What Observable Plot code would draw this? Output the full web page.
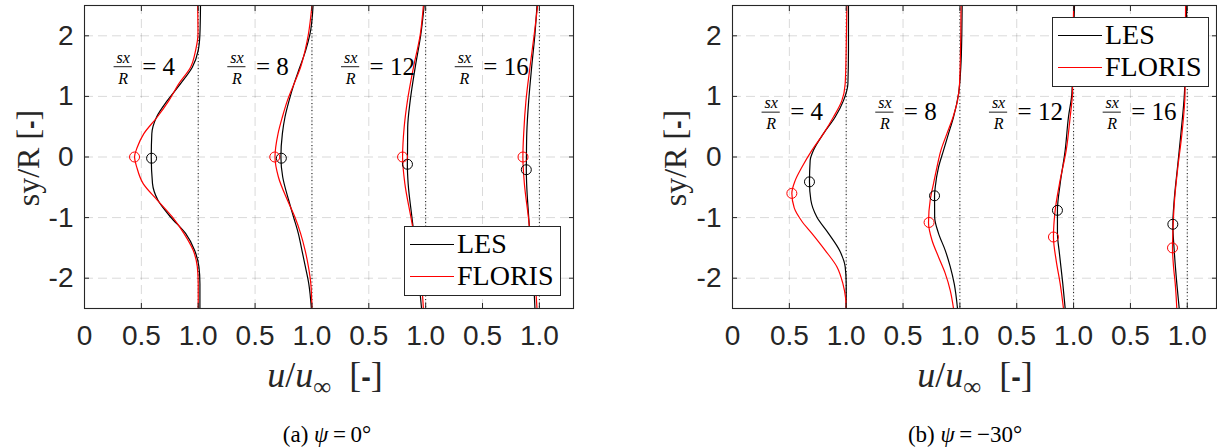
<!DOCTYPE html>
<html>
<head>
<meta charset="utf-8">
<script src="https://cdn.jsdelivr.net/npm/d3@7"></script>
<script src="https://cdn.jsdelivr.net/npm/@observablehq/plot@0.6"></script>
<style>
  body { margin: 0; background: #fff; }
  #fig { position: relative; width: 1217px; height: 448px; overflow: hidden; background: #fff; font-family: "Liberation Serif", "Times New Roman", serif; color: #000; }
  .panel { position: absolute; top: 0; }
  .ylab { position: absolute; transform: translate(-50%, -50%) rotate(-90deg); white-space: nowrap; font-size: 32px; line-height: 1; color: #262626; }
  .xlab { position: absolute; transform: translate(-50%, -50%); white-space: nowrap; font-size: 36px; line-height: 1; color: #262626; }
  .cap { position: absolute; transform: translate(-50%, -50%); white-space: nowrap; font-size: 23px; line-height: 1; }
  .sansb { font-family: "Liberation Sans", Arial, sans-serif; font-weight: bold; font-size: 0.8em; }
  .legend { position: absolute; background: #fff; border: 1px solid #262626; box-sizing: border-box; }
  .legend .row { position: absolute; left: 0; height: 0; width: 100%; }
  .legend .sw { position: absolute; left: 5px; top: 0; width: 44px; height: 0; }
  .legend .lt { position: absolute; left: 52px; top: 0; transform: translateY(-50%); font-size: 28px; line-height: 1; white-space: nowrap; }
</style>
</head>
<body>
<div id="fig"></div>
<script>
// ---------- axes / categories ----------
const sxR = [4, 8, 12, 16];
const profileOffsets = [0, 1, 2, 3];
const seriesNames = ["LES", "FLORIS"];
const seriesColors = ["#000000", "#ff0000"];
const xTickValues = [0, 0.5, 1, 1.5, 2, 2.5, 3, 3.5, 4];
const xTickLabels = ["0", "0.5", "1.0", "0.5", "1.0", "0.5", "1.0", "0.5", "1.0"];
const yTickValues = [-2, -1, 0, 1, 2];
const yTickLabels = ["-2", "-1", "0", "1", "2"];
const captions = ["(a)", "(b)"];
const psiValues = ["0", "\u221230"];

// ---------- panel (a) psi = 0 : velocity profiles u/u_inf vs sy/R ----------
const a4LesY = [2.5, 2.03, 1.76, 1.48, 1.21, 0.93, 0.66, 0.385, 0, -0.44, -0.71, -0.99, -1.26, -1.54, -1.81, -2.09, -2.5];
const a4LesU = [1.02, 1.015, 1.0, 0.948, 0.845, 0.728, 0.634, 0.592, 0.587, 0.598, 0.645, 0.757, 0.889, 0.968, 1.006, 1.015, 1.015];
const a4FlorisY = [2.5, 2.03, 1.76, 1.48, 1.21, 0.93, 0.66, 0.385, 0.16, 0, -0.17, -0.44, -0.71, -0.99, -1.26, -1.54, -1.81, -2.09, -2.5];
const a4FlorisU = [0.995, 0.998, 0.977, 0.933, 0.83, 0.742, 0.64, 0.522, 0.464, 0.44, 0.46, 0.516, 0.64, 0.772, 0.874, 0.956, 0.992, 1.0, 1.0];

const a8LesY = [2.5, 2.03, 1.76, 1.48, 1.21, 0.93, 0.66, 0.385, 0, -0.33, -0.71, -0.99, -1.26, -1.54, -1.81, -2.09, -2.5];
const a8LesU = [1.01, 0.983, 0.945, 0.893, 0.843, 0.799, 0.763, 0.74, 0.727, 0.743, 0.795, 0.838, 0.88, 0.912, 0.942, 0.972, 0.995];
const a8FlorisY = [2.5, 2.03, 1.76, 1.48, 1.21, 0.93, 0.66, 0.385, 0, -0.33, -0.71, -0.99, -1.26, -1.54, -1.81, -2.09, -2.5];
const a8FlorisU = [1.0, 0.969, 0.94, 0.9, 0.843, 0.784, 0.74, 0.702, 0.675, 0.705, 0.784, 0.85, 0.9, 0.94, 0.969, 0.99, 1.0];

const a12LesY = [2.5, 2.03, 1.48, 0.93, 0.49, 0, -0.12, -0.44, -0.99, -1.54, -2.09, -2.5];
const a12LesU = [0.987, 0.958, 0.908, 0.864, 0.842, 0.84, 0.839, 0.846, 0.879, 0.914, 0.943, 0.964];
const a12FlorisY = [2.5, 2.03, 1.48, 0.93, 0.49, 0, -0.44, -0.99, -1.54, -2.09, -2.5];
const a12FlorisU = [0.98, 0.953, 0.893, 0.84, 0.811, 0.797, 0.817, 0.87, 0.922, 0.964, 0.98];

const a16LesY = [2.5, 2.03, 1.48, 0.93, 0.385, 0, -0.21, -0.44, -0.99, -1.54, -2.09, -2.5];
const a16LesU = [0.979, 0.961, 0.932, 0.906, 0.889, 0.886, 0.885, 0.888, 0.906, 0.926, 0.95, 0.961];
const a16FlorisY = [2.5, 2.03, 1.48, 0.93, 0.385, 0, -0.44, -0.99, -1.54, -2.09, -2.5];
const a16FlorisU = [0.985, 0.955, 0.917, 0.882, 0.862, 0.855, 0.868, 0.903, 0.932, 0.964, 0.979];

// wake-centre markers, panel (a)
const aLesMarkU = [0.59, 0.731, 0.84, 0.885];
const aLesMarkY = [-0.02, -0.02, -0.12, -0.21];
const aFlorisMarkU = [0.44, 0.673, 0.797, 0.856];
const aFlorisMarkY = [0, 0, 0, 0];

// ---------- panel (b) psi = -30 ----------
const b4LesY = [2.5, 1.76, 1.21, 0.93, 0.66, 0.385, 0.11, -0.06, -0.41, -0.71, -0.99, -1.26, -1.54, -1.81, -2.09, -2.5];
const b4LesU = [1.02, 1.02, 1.015, 0.976, 0.903, 0.8, 0.712, 0.683, 0.677, 0.689, 0.742, 0.844, 0.941, 0.991, 1.0, 1.0];
const b4FlorisY = [2.5, 1.76, 1.21, 0.93, 0.66, 0.385, 0.11, -0.17, -0.39, -0.6, -0.84, -1.06, -1.26, -1.54, -1.81, -2.09, -2.33, -2.5];
const b4FlorisU = [1.006, 1.0, 0.991, 0.962, 0.888, 0.8, 0.698, 0.61, 0.551, 0.522, 0.543, 0.61, 0.698, 0.815, 0.918, 0.971, 0.995, 1.0];

const b8LesY = [2.5, 2.03, 1.48, 1.04, 0.66, 0.385, 0.11, -0.17, -0.5, -0.64, -0.99, -1.26, -1.54, -1.81, -2.09, -2.5];
const b8LesU = [1.02, 1.017, 1.008, 0.988, 0.944, 0.9, 0.856, 0.812, 0.783, 0.777, 0.778, 0.812, 0.871, 0.915, 0.95, 0.979];
const b8FlorisY = [2.5, 2.03, 1.21, 0.93, 0.66, 0.385, 0.11, -0.17, -0.44, -0.71, -1.08, -1.37, -1.65, -1.92, -2.2, -2.5];
const b8FlorisU = [1.01, 1.008, 0.997, 0.979, 0.94, 0.886, 0.833, 0.798, 0.768, 0.739, 0.724, 0.754, 0.812, 0.871, 0.915, 0.944];

const b12LesY = [2.5, 2.03, 1.05, 0.66, 0.11, -0.44, -0.88, -1.26, -1.6, -2.09, -2.5];
const b12LesU = [1.008, 1.0, 0.985, 0.955, 0.926, 0.882, 0.858, 0.858, 0.876, 0.905, 0.926];
const b12FlorisY = [2.5, 2.03, 1.05, 0.66, 0.11, -0.44, -0.88, -1.32, -1.71, -2.09, -2.5];
const b12FlorisU = [1.0, 0.997, 0.99, 0.97, 0.935, 0.876, 0.838, 0.823, 0.847, 0.882, 0.911];

const b16LesY = [2.5, 1.05, 0.385, -0.17, -0.71, -1.11, -1.54, -2.09, -2.5];
const b16LesU = [0.995, 0.975, 0.944, 0.914, 0.885, 0.873, 0.885, 0.908, 0.929];
const b16FlorisY = [2.5, 1.05, 0.385, -0.17, -0.71, -1.26, -1.5, -1.81, -2.09, -2.5];
const b16FlorisU = [0.985, 0.98, 0.953, 0.917, 0.888, 0.873, 0.87, 0.879, 0.894, 0.908];

// wake-centre markers, panel (b)
const bLesMarkU = [0.677, 0.777, 0.858, 0.873];
const bLesMarkY = [-0.41, -0.64, -0.88, -1.11];
const bFlorisMarkU = [0.522, 0.729, 0.823, 0.87];
const bFlorisMarkY = [-0.6, -1.08, -1.32, -1.5];

// annotation heights (sx/R labels) per panel
const annotY = [1.49, 0.74];

// ---------- build tables ----------
const curvesA = [
  [0, "LES", a4LesY, a4LesU], [0, "FLORIS", a4FlorisY, a4FlorisU],
  [1, "LES", a8LesY, a8LesU], [1, "FLORIS", a8FlorisY, a8FlorisU],
  [2, "LES", a12LesY, a12LesU], [2, "FLORIS", a12FlorisY, a12FlorisU],
  [3, "LES", a16LesY, a16LesU], [3, "FLORIS", a16FlorisY, a16FlorisU]
];
const curvesB = [
  [0, "LES", b4LesY, b4LesU], [0, "FLORIS", b4FlorisY, b4FlorisU],
  [1, "LES", b8LesY, b8LesU], [1, "FLORIS", b8FlorisY, b8FlorisU],
  [2, "LES", b12LesY, b12LesU], [2, "FLORIS", b12FlorisY, b12FlorisU],
  [3, "LES", b16LesY, b16LesU], [3, "FLORIS", b16FlorisY, b16FlorisU]
];
function toRows(curves) {
  return curves.flatMap(([k, s, ys, us]) => ys.map((y, i) => ({key: s + k, series: s, x: profileOffsets[k] + us[i], y})));
}
function toMarks(lu, ly, fu, fy) {
  return [
    ...lu.map((u, k) => ({series: "LES", x: profileOffsets[k] + u, y: ly[k]})),
    ...fu.map((u, k) => ({series: "FLORIS", x: profileOffsets[k] + u, y: fy[k]}))
  ];
}
const xLabelMap = new Map(xTickValues.map((v, i) => [v, xTickLabels[i]]));
const yLabelMap = new Map(yTickValues.map((v, i) => [v, yTickLabels[i]]));

function makePanel({rows, marks, ay, xMax, width, marginLeft, marginRight}) {
  const annot = sxR.map((s, k) => ({x: profileOffsets[k] + 0.34, y: ay, label: "= " + s}));
  const unity = profileOffsets.map(o => o + 1);
  const axisColor = "#262626";
  const serif = "Liberation Serif, Times New Roman, serif";
  return Plot.plot({
    width, height: 355,
    marginLeft, marginRight, marginTop: 5, marginBottom: 47,
    style: {background: "transparent", overflow: "visible"},
    x: {domain: [0, xMax]},
    y: {domain: [-2.5, 2.5]},
    color: {domain: seriesNames, range: seriesColors},
    marks: [
      Plot.gridX(xTickValues, {stroke: "#000", strokeOpacity: 0.15, strokeDasharray: "9,5", strokeWidth: 1}),
      Plot.gridY(yTickValues, {stroke: "#000", strokeOpacity: 0.15, strokeDasharray: "9,5", strokeWidth: 1}),
      Plot.ruleX(unity, {stroke: "#000", strokeWidth: 0.9, strokeDasharray: "1,2.5"}),
      Plot.line(rows, {x: "x", y: "y", z: "key", stroke: "series", curve: "monotone-y", strokeWidth: 1.2}),
      Plot.dot(marks, {x: "x", y: "y", stroke: "series", fill: "none", r: 5, strokeWidth: 1}),
      Plot.text(annot, {x: "x", y: "y", text: () => "sx", lineAnchor: "bottom", dy: -4, fontSize: 16, fontStyle: "italic", fontFamily: serif}),
      Plot.text(annot, {x: "x", y: "y", text: () => "R", lineAnchor: "bottom", dy: 17, fontSize: 16, fontStyle: "italic", fontFamily: serif}),
      Plot.ruleY(annot, {y: "y", x1: d => d.x - 0.08, x2: d => d.x + 0.08, stroke: "#000", strokeWidth: 0.9}),
      Plot.text(annot, {x: "x", y: "y", text: "label", textAnchor: "start", lineAnchor: "bottom", dx: 19, dy: 8, fontSize: 25, fontFamily: serif}),
      Plot.frame({stroke: axisColor, strokeWidth: 1.1}),
      Plot.axisX(xTickValues, {anchor: "bottom", tickSize: -5, tickFormat: () => "", label: null, stroke: axisColor}),
      Plot.axisX(xTickValues, {anchor: "top", tickSize: -5, tickFormat: () => "", label: null, stroke: axisColor}),
      Plot.axisX(xTickValues, {anchor: "bottom", tickSize: 0, tickPadding: 17, tickFormat: d => xLabelMap.get(d), label: null, fontSize: 28, fill: axisColor, fontFamily: "Liberation Sans, Arial, sans-serif"}),
      Plot.axisY(yTickValues, {anchor: "left", tickSize: -5, tickFormat: () => "", label: null, stroke: axisColor}),
      Plot.axisY(yTickValues, {anchor: "right", tickSize: -5, tickFormat: () => "", label: null, stroke: axisColor}),
      Plot.axisY(yTickValues, {anchor: "left", tickSize: 0, tickPadding: 11, tickFormat: d => yLabelMap.get(d), label: null, fontSize: 28, fill: axisColor, fontFamily: "Liberation Sans, Arial, sans-serif"})
    ]
  });
}

const fig = document.getElementById("fig");
const panels = [
  {left: 0, rows: toRows(curvesA), marks: toMarks(aLesMarkU, aLesMarkY, aFlorisMarkU, aFlorisMarkY), ay: annotY[0], xMax: 4.3, width: 583, marginLeft: 84, marginRight: 10,
   legend: {left: 404, top: 226}, ylabX: 28, xlabX: 325, capX: 327},
  {left: 640, rows: toRows(curvesB), marks: toMarks(bLesMarkU, bLesMarkY, bFlorisMarkU, bFlorisMarkY), ay: annotY[1], xMax: 4.257, width: 577, marginLeft: 92, marginRight: 1,
   legend: {left: 1052, top: 17}, ylabX: 675, xlabX: 975, capX: 965}
];
panels.forEach((p, i) => {
  const svg = makePanel(p);
  svg.classList.add("panel");
  svg.style.left = p.left + "px";
  fig.appendChild(svg);

  const yl = document.createElement("div");
  yl.className = "ylab";
  yl.style.left = p.ylabX + "px"; yl.style.top = "158px";
  yl.innerHTML = 'sy/R&nbsp;[<span class="sansb">-</span>]';
  fig.appendChild(yl);

  const xl = document.createElement("div");
  xl.className = "xlab";
  xl.style.left = p.xlabX + "px"; xl.style.top = "378px";
  xl.innerHTML = '<i>u</i>/<i>u</i><sub style="font-size:0.7em">\u221E</sub>&nbsp;&nbsp;[<span class="sansb">-</span>]';
  fig.appendChild(xl);

  const cp = document.createElement("div");
  cp.className = "cap";
  cp.style.left = p.capX + "px"; cp.style.top = "434px";
  cp.innerHTML = captions[i] + ' <i>\u03C8</i>&thinsp;=&thinsp;' + psiValues[i] + '\u00B0';
  fig.appendChild(cp);

  const lg = document.createElement("div");
  lg.className = "legend";
  lg.style.left = p.legend.left + "px"; lg.style.top = p.legend.top + "px";
  lg.style.width = "157px"; lg.style.height = "70px";
  seriesNames.forEach((s, j) => {
    const row = document.createElement("div");
    row.className = "row";
    row.style.top = (17 + 32 * j) + "px";
    row.innerHTML = `<span class="sw" style="border-top:1.2px solid ${seriesColors[j]}"></span><span class="lt">${s}</span>`;
    lg.appendChild(row);
  });
  fig.appendChild(lg);
});
</script>
</body>
</html>
